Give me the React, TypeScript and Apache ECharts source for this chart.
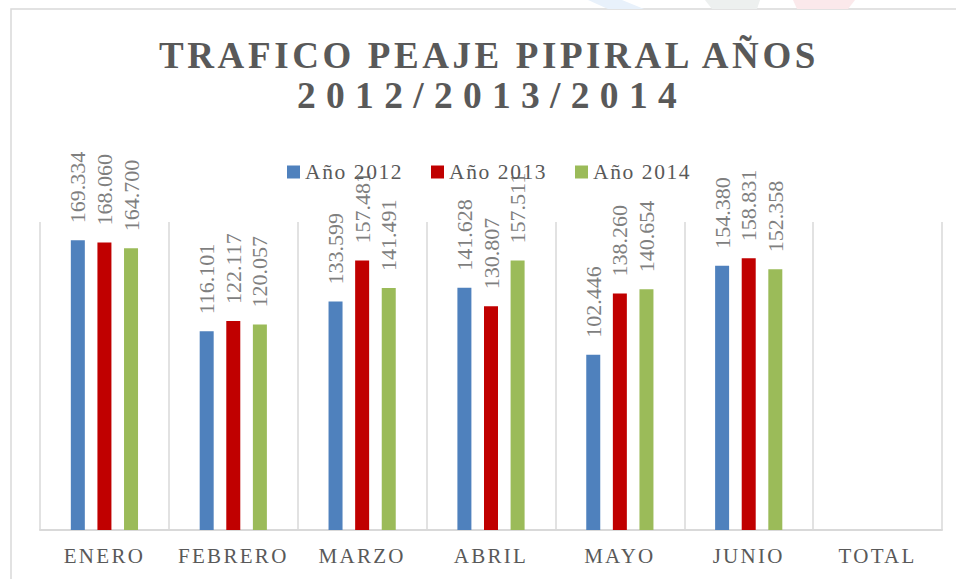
import React, { useEffect, useRef } from "react";
import * as echarts from "echarts";

const categories = ["ENERO", "FEBRERO", "MARZO", "ABRIL", "MAYO", "JUNIO", "TOTAL"];
const seriesNames = ["Año 2012", "Año 2013", "Año 2014"];
const y2012 = [169.334, 116.101, 133.599, 141.628, 102.446, 154.38, null];
const y2013 = [168.06, 122.117, 157.481, 130.807, 138.26, 158.831, null];
const y2014 = [164.7, 120.057, 141.491, 157.511, 140.654, 152.358, null];
const colors = ["#4F81BD", "#C00000", "#9BBB59"];
const titleLine1 = "TRAFICO PEAJE PIPIRAL AÑOS";
const titleLine2 = "2012/2013/2014";

const FONT = '"Liberation Serif", "Times New Roman", serif';

const css = `
body { margin: 0; }
svg text[style*="37px"] { letter-spacing: 3.6px; }
svg text[style*="37.5px"] { letter-spacing: 10.3px; }
svg text[style*="21px"] { letter-spacing: 2.3px; }
svg text[style*="21.5px"] { letter-spacing: 1.6px; }
`;

export default function App() {
  const ref = useRef<HTMLDivElement>(null);
  useEffect(() => {
    if (!ref.current) return;
    const chart = echarts.init(ref.current, null, { renderer: "svg" });
    const data = [y2012, y2013, y2014];
    chart.setOption({
      animation: false,
      backgroundColor: "#ffffff",
      grid: { left: 40, right: 14, top: 222, bottom: 49 },
      legend: {
        data: seriesNames,
        left: 287,
        top: 161,
        padding: 0,
        icon: "rect",
        itemWidth: 13,
        itemHeight: 13,
        itemGap: 40.6,
        textStyle: { fontFamily: FONT, fontSize: 21.5, color: "#595959" },
      },
      xAxis: {
        type: "category",
        data: categories,
        axisTick: { show: false },
        axisLine: { lineStyle: { color: "#d9d9d9", width: 2 } },
        splitLine: { show: true, lineStyle: { color: "#d9d9d9", width: 1.5 } },
        axisLabel: { fontFamily: FONT, fontSize: 21, color: "#595959", margin: 15 },
      },
      yAxis: { type: "value", min: 0, max: 180, show: false, splitLine: { show: false } },
      graphic: [
        {
          type: "rect",
          shape: { x: 11, y: 9, width: 1000, height: 700 },
          style: { fill: "none", stroke: "#d9d9d9", lineWidth: 1.5 },
          silent: true,
        },
        {
          type: "polygon",
          shape: { points: [[588, 0], [622, 0], [644, 9], [608, 9]] },
          style: { fill: "#e8f1fb" },
          silent: true,
        },
        {
          type: "polygon",
          shape: { points: [[705, 0], [760, 0], [757, 9], [712, 9]] },
          style: { fill: "#edf0ef" },
          silent: true,
        },
        {
          type: "polygon",
          shape: { points: [[793, 0], [855, 0], [848, 9], [797, 9]] },
          style: { fill: "#fbe9eb" },
          silent: true,
        },
        {
          type: "text",
          x: 489,
          y: 55,
          style: {
            text: titleLine1,
            fontFamily: FONT,
            fontSize: 37,
            fontWeight: "bold",
            fill: "#595959",
            align: "center",
            verticalAlign: "middle",
          },
          silent: true,
        },
        {
          type: "text",
          x: 492,
          y: 95,
          style: {
            text: titleLine2,
            fontFamily: FONT,
            fontSize: 37.5,
            fontWeight: "bold",
            fill: "#595959",
            align: "center",
            verticalAlign: "middle",
          },
          silent: true,
        },
      ],
      series: seriesNames.map((name, i) => ({
        name,
        type: "bar",
        data: data[i],
        barWidth: 14,
        barGap: "90%",
        itemStyle: { color: colors[i] },
        label: {
          show: true,
          position: "top",
          distance: 17,
          rotate: 90,
          align: "left",
          verticalAlign: "middle",
          fontFamily: FONT,
          fontSize: 22,
          color: "#7f7f7f",
          formatter: (p: any) => (p.value == null ? "" : Number(p.value).toFixed(3)),
        },
      })),
    });
    return () => chart.dispose();
  }, []);
  return (
    <>
      <style>{css}</style>
      <div ref={ref} style={{ width: 956, height: 579 }} />
    </>
  );
}
